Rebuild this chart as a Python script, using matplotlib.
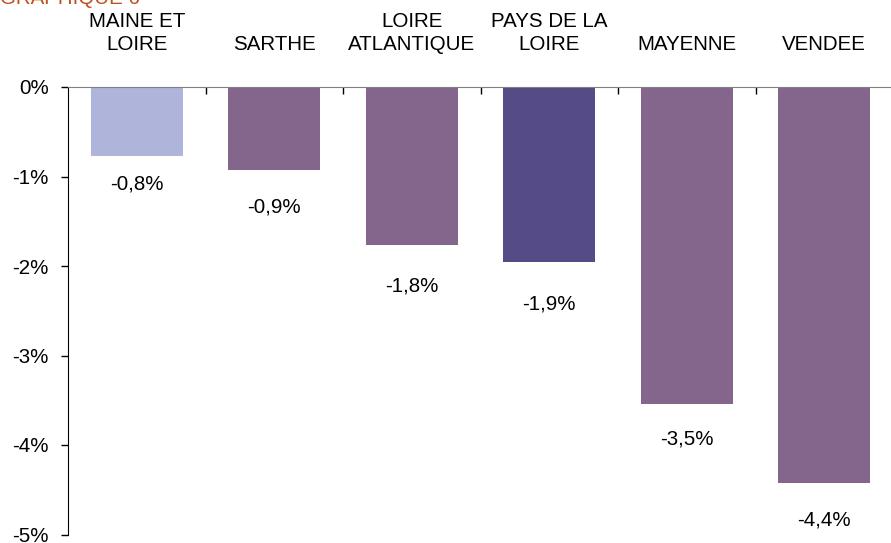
import matplotlib.pyplot as plt

plt.rcParams['font.family'] = ['Liberation Sans', 'DejaVu Sans']

categories = ['MAINE ET\nLOIRE', 'SARTHE', 'LOIRE\nATLANTIQUE', 'PAYS DE LA\nLOIRE', 'MAYENNE', 'VENDEE']
values = [-0.77, -0.93, -1.76, -1.96, -3.54, -4.43]
labels = ['-0,8%', '-0,9%', '-1,8%', '-1,9%', '-3,5%', '-4,4%']
colors = ['#AFB4DA', '#84668D', '#84668D', '#554B86', '#84668D', '#84668D']
yticks = [0, -1, -2, -3, -4, -5]

# gap (points) between bar end and its value label, as placed in the original
label_gap = [20, 26.6, 30.2, 30.2, 25.2, 26.6]

fig = plt.figure(figsize=(8.91, 5.43), dpi=100)
ax = fig.add_axes([68 / 891, 8.5 / 543, (6 * 137.5) / 891, 447.5 / 543])

x = range(len(categories))
ax.bar(x, values, width=0.67, color=colors)

ax.set_xlim(-0.5, len(categories) - 0.5)
ax.set_ylim(-5, 0)
ax.set_yticks(yticks)
ax.set_yticklabels([f'{t}%' for t in yticks], fontsize=14.8)
ax.tick_params(axis='y', length=5, width=1, direction='out', pad=9)

# ticks between categories along the zero line
ax.set_xticks([i + 0.5 for i in range(len(categories) - 1)])
ax.set_xticklabels([])
ax.xaxis.set_ticks_position('top')
ax.tick_params(axis='x', direction='in', length=5, width=1)

for s in ['right', 'bottom']:
    ax.spines[s].set_visible(False)
ax.spines['top'].set_color('#808080')
ax.spines['left'].set_color('black')

for i, cat in enumerate(categories):
    ax.annotate(cat, (i, 0), xytext=(0, 23.5), textcoords='offset points',
                ha='center', va='bottom', fontsize=14.8, linespacing=1.3)
    ax.annotate(labels[i], (i, values[i]), xytext=(0, -label_gap[i]), textcoords='offset points',
                ha='center', va='center', fontsize=14.8)

fig.text(0.0, (543 - 4.5) / 543, 'GRAPHIQUE 6', color='#C0501E', fontsize=14.8,
         ha='left', va='baseline')

fig.savefig('out.png', dpi=100)
